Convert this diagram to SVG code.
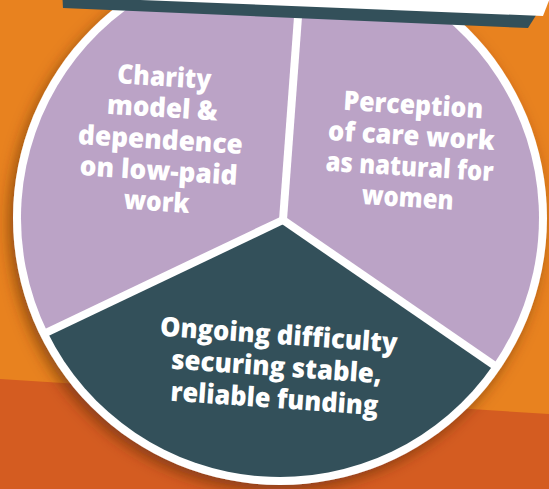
<svg xmlns="http://www.w3.org/2000/svg" width="549" height="489" viewBox="0 0 549 489">
  <defs>
    <filter id="shadow" x="-20%" y="-20%" width="140%" height="140%">
      <feGaussianBlur in="SourceAlpha" stdDeviation="7"/>
      <feOffset dx="-4" dy="6" result="b"/>
      <feFlood flood-color="#5a2a10" flood-opacity="0.6"/>
      <feComposite in2="b" operator="in"/>
      <feMerge><feMergeNode/><feMergeNode in="SourceGraphic"/></feMerge>
    </filter>
    <style>
      .lav { fill: #BBA3C6; }
      .dark { fill: #33505A; }
      .lbl { font-family: "Open Sans", "Liberation Sans", sans-serif; font-weight: 800; font-size: 27px; fill: #FFFFFF; text-anchor: middle; }
      .div { stroke: #FFFFFF; stroke-width: 8; stroke-linecap: butt; }
    </style>
  </defs>

  <!-- background -->
  <rect x="0" y="0" width="549" height="489" fill="#E8821F"/>
  <polygon points="0,379 549,414 549,489 0,489" fill="#D45C21"/>

  <!-- circle base -->
  <circle cx="280" cy="218" r="267" fill="#FFFFFF" filter="url(#shadow)"/>

  <g id="sector-charity">
    <path class="lav" d="M283,220 L302.2,-40 A259,259 0 0 0 47.5,332.2 Z"/>
    <g transform="rotate(3.5 160 148)">
      <text class="lbl" x="160" y="86" textLength="94" lengthAdjust="spacingAndGlyphs">Charity</text>
      <text class="lbl" x="160" y="117" textLength="111" lengthAdjust="spacingAndGlyphs">model &amp;</text>
      <text class="lbl" x="160" y="149" textLength="165" lengthAdjust="spacingAndGlyphs">dependence</text>
      <text class="lbl" x="160" y="180" textLength="158" lengthAdjust="spacingAndGlyphs">on low-paid</text>
      <text class="lbl" x="160" y="211" textLength="66" lengthAdjust="spacingAndGlyphs">work</text>
    </g>
  </g>

  <g id="sector-perception">
    <path class="lav" d="M283,220 L493.4,364.8 A259,259 0 0 0 302.2,-40 Z"/>
    <g transform="rotate(3.5 410 160)">
      <text class="lbl" x="410" y="114" textLength="140" lengthAdjust="spacingAndGlyphs">Perception</text>
      <text class="lbl" x="410" y="145" textLength="167" lengthAdjust="spacingAndGlyphs">of care work</text>
      <text class="lbl" x="410" y="176" textLength="168" lengthAdjust="spacingAndGlyphs">as natural for</text>
      <text class="lbl" x="410" y="207" textLength="92" lengthAdjust="spacingAndGlyphs">women</text>
    </g>
  </g>

  <g id="sector-funding">
    <path class="dark" d="M283,220 L47.5,332.2 A259,259 0 0 0 493.4,364.8 Z"/>
    <g transform="rotate(4 276 376)">
      <text class="lbl" x="276" y="344" textLength="238" lengthAdjust="spacingAndGlyphs">Ongoing difficulty</text>
      <text class="lbl" x="276" y="376" textLength="211" lengthAdjust="spacingAndGlyphs">securing stable,</text>
      <text class="lbl" x="276" y="408" textLength="208" lengthAdjust="spacingAndGlyphs">reliable funding</text>
    </g>
  </g>

  <g id="dividers">
    <line class="div" x1="283" y1="220" x2="302.5" y2="-44"/>
    <line class="div" x1="283" y1="220" x2="43.5" y2="334"/>
    <line class="div" x1="283" y1="220" x2="497" y2="367.3"/>
  </g>

  <g id="header-box">
    <polygon points="62,-10 552,-10 528,28 63,8" fill="#33505A"/>
    <polygon points="90,-10 553,-10 543,16 90,-2" fill="#FFFFFF"/>
  </g>
</svg>
